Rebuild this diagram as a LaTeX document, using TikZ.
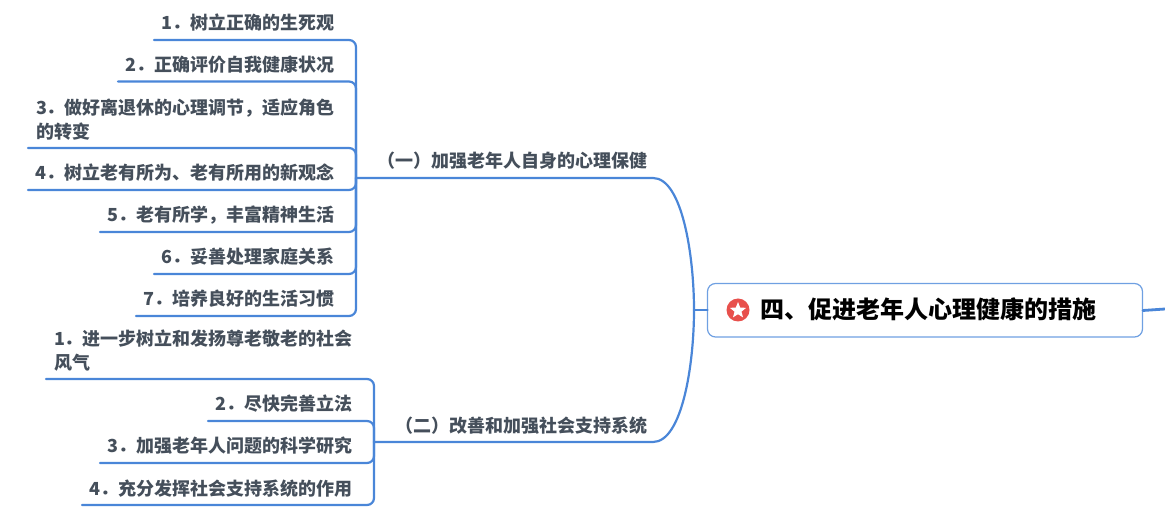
\documentclass[tikz,border=0pt]{standalone}
\usepackage{fontspec}
\setmainfont{Noto Sans CJK SC}
\usetikzlibrary{shapes.geometric}
\definecolor{linkblue}{HTML}{4A86D8}
\definecolor{boxblue}{HTML}{6FA0E2}
\definecolor{txtgrey}{HTML}{454F5B}
\definecolor{iconred}{HTML}{E8504C}
\tikzset{
  x=1pt,y=-1pt,
  leaf/.style={inner sep=0pt,outer sep=0pt,text=txtgrey,font=\fontsize{18}{24}\selectfont\bfseries},
  leafr/.style={leaf,anchor=base east},
  leafm/.style={leaf,anchor=west,align=left},
  conn/.style={draw=linkblue,line width=2.2pt,line cap=round,line join=round},
  corner/.style={conn,rounded corners=7pt},
  rootbox/.style={draw=boxblue,line width=1.2pt,rounded corners=8pt,fill=white,minimum width=435pt,minimum height=53.5pt,anchor=north west,inner sep=0pt,outer sep=0pt},
  roottext/.style={inner sep=0pt,anchor=base west,text=black,font=\fontsize{24}{28}\selectfont\bfseries},
  icondisc/.style={circle,fill=iconred,minimum size=23pt,inner sep=0pt},
  iconstar/.style={star,star points=5,star point ratio=2.3,fill=white,minimum size=17pt,inner sep=0pt}
}
\begin{document}
\begin{tikzpicture}
\useasboundingbox (0,0) rectangle (1165,518);
% coordinates
\foreach \n/\x/\y in {a1/154/40,a2/118/81.5,a3/28/148,a4/28/190,a5/100/232,a6/154/274,a7/136/316,
  b1/46/379,b2/208/421,b3/100/463,b4/82/505}{\coordinate (\n) at (\x,\y);}
\coordinate (ta1) at (356,40);\coordinate (ta2) at (356,81.5);\coordinate (ta3) at (356,148);
\coordinate (ta4) at (356,190);\coordinate (ta5) at (356,232);\coordinate (ta6) at (356,274);\coordinate (ta7) at (356,316);
\coordinate (ja) at (356,178);
\coordinate (tb1) at (374,379);\coordinate (tb2) at (374,421);\coordinate (tb3) at (374,463);\coordinate (tb4) at (374,505);
\coordinate (jb) at (374,442);
\coordinate (ea) at (653,178);\coordinate (eb) at (653,442);
\coordinate (hub) at (694,310);
\coordinate (exit) at (1165,309);
% root
\node[rootbox] (root) at (707.5,283.5) {};
\coordinate (rootleft) at (707.5,310);\coordinate (rootright) at (1143,310.5);
% connectors group 1
\foreach \n in {1,...,7}{\path[corner] (a\n) -- (ta\n) -- (ja);}
% connectors group 2
\foreach \n in {1,...,4}{\path[corner] (b\n) -- (tb\n) -- (jb);}
% trunks to hub
\path[conn] (ja) -- (ea) .. controls (682,178) and (694,255) .. (hub);
\path[conn] (jb) -- (eb) .. controls (682,442) and (694,365) .. (hub);
\path[conn] (hub) -- (rootleft);
\path[conn,line width=2.8pt] (rootright) -- (exit);
% root contents
\node[icondisc] (ic) at (738,310) {};
\node[iconstar] (st) at (738,310.5) {};
\node[roottext] (rt) at (760,319) {四、促进老年人心理健康的措施};
% labels
\node[leafr] (l1) at (334,30) {1．树立正确的生死观};
\node[leafr] (l2) at (334,71.5) {2．正确评价自我健康状况};
\node[leafm] (l3) at (36,119.5) {3．做好离退休的心理调节，适应角色\\的转变};
\node[leafr] (l4) at (334,180) {4．树立老有所为、老有所用的新观念};
\node[leafr] (l5) at (334,222) {5．老有所学，丰富精神生活};
\node[leafr] (l6) at (334,264) {6．妥善处理家庭关系};
\node[leafr] (l7) at (334,306) {7．培养良好的生活习惯};
\node[leafm] (m1) at (54,350.5) {1．进一步树立和发扬尊老敬老的社会\\风气};
\node[leafr] (m2) at (352,411) {2．尽快完善立法};
\node[leafr] (m3) at (352,453) {3．加强老年人问题的科学研究};
\node[leafr] (m4) at (352,495) {4．充分发挥社会支持系统的作用};
\node[leafr] (g1) at (647,168) {（一）加强老年人自身的心理保健};
\node[leafr] (g2) at (647,432) {（二）改善和加强社会支持系统};
\end{tikzpicture}
\end{document}
